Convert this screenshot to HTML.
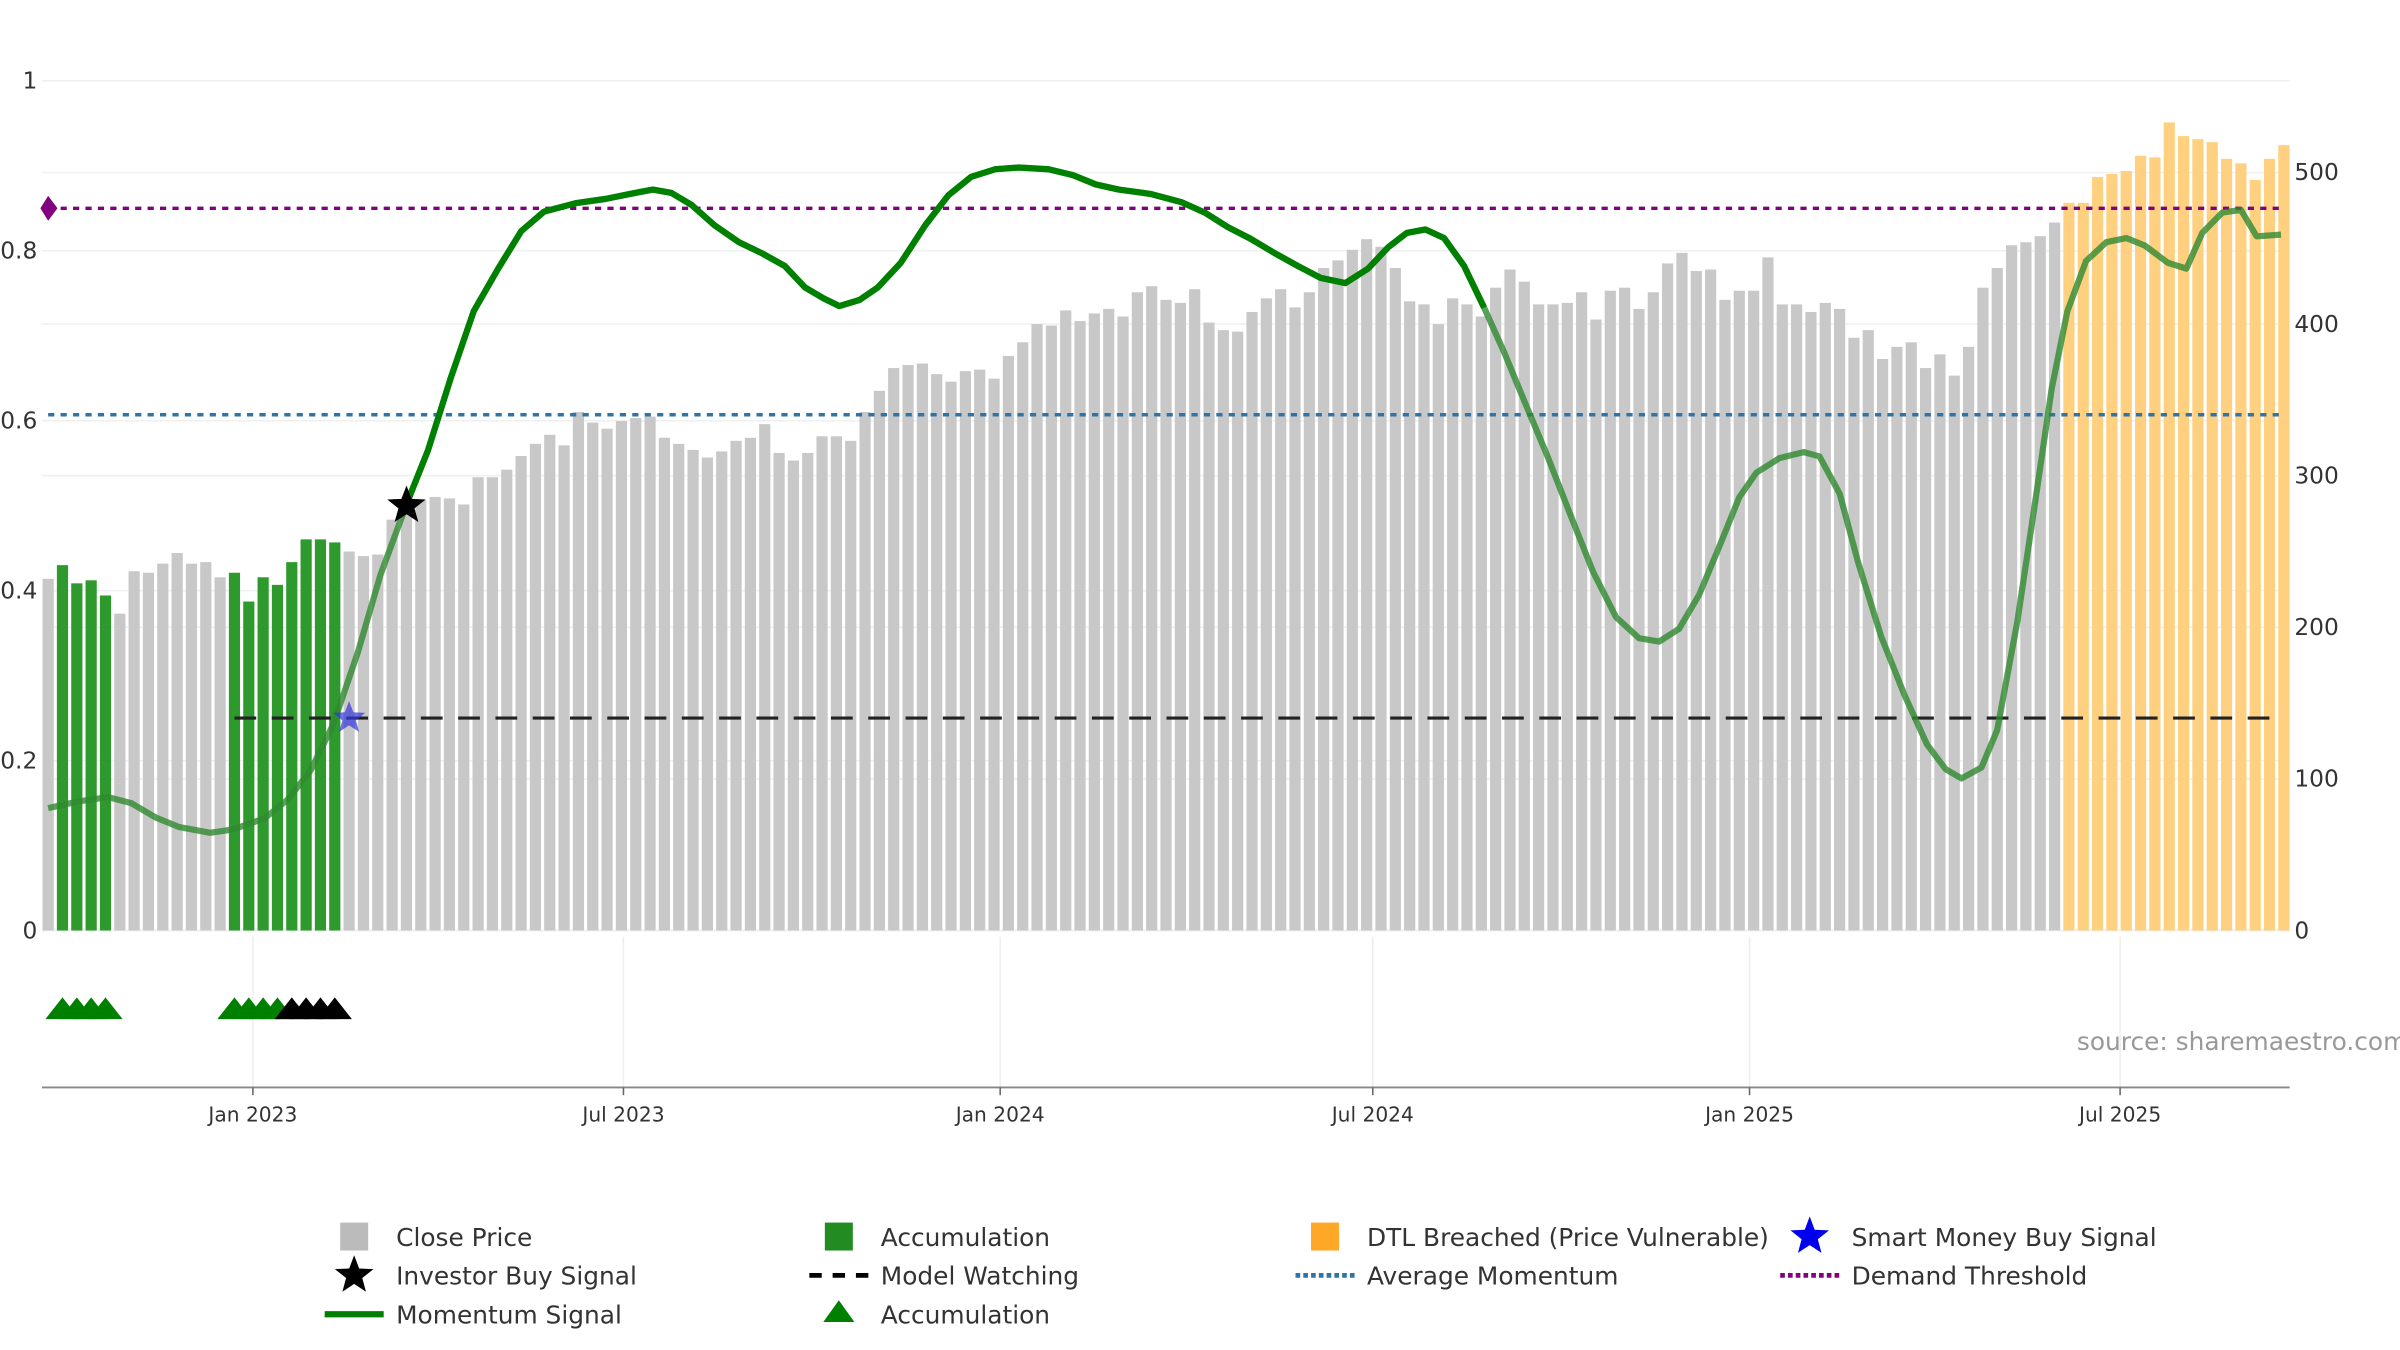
<!DOCTYPE html>
<html><head><meta charset="utf-8"><title>Momentum chart</title>
<style>html,body{margin:0;padding:0;background:#fff}svg{display:block;font-family:"DejaVu Sans","Liberation Sans",sans-serif}</style>
</head><body>
<svg id="chart" width="2400" height="1350" viewBox="0 0 1545 869" xmlns="http://www.w3.org/2000/svg">
<g id="grid"></g>
<g id="bars"></g>
<g id="lines"></g>
<g id="momentum"></g>
<g id="markers"></g>
<g id="axes"></g>
<text x="1337" y="676" font-size="16" fill="#999">source: sharemaestro.com</text>
<g id="legend" font-size="16" fill="#333"></g>
</svg>
<script>
const closePrices=[232,241,229,231,221,209,237,236,242,249,242,243,233,236,217,233,228,243,258,258,256,250,247,248,271,276,284,286,285,281,299,299,304,313,321,327,320,342,335,331,336,338,339,325,321,317,312,316,323,325,334,315,310,315,326,326,323,342,356,371,373,374,367,362,369,370,364,379,388,400,399,409,402,407,410,405,421,425,416,414,423,401,396,395,408,417,423,411,421,437,442,449,456,451,437,415,413,400,417,413,405,424,436,428,413,413,414,421,403,422,424,410,421,440,447,435,436,416,422,422,444,413,413,408,414,410,391,396,377,385,388,371,380,366,385,424,437,452,454,458,467,480,480,497,499,501,511,510,533,524,522,520,509,506,495,509,518];
const accumulationWeeks=[1,2,3,4,13,14,15,16,17,18,19,20];
const dtlStartWeek=141;
const momentumWeek=[0,2.1,4.2,5.8,7.5,9.1,11.3,12.9,15.1,16.7,18.3,19.9,21.6,23.2,25.1,26.5,28.1,29.7,31.4,33,34.6,36.8,38.9,40.6,42.2,43.5,44.9,46.5,48.2,49.8,51.4,52.8,54.1,55.2,56.6,57.9,59.5,61.2,62.8,64.4,66.1,67.7,69.8,71.5,73.1,74.7,76.9,79.1,80.7,82.3,83.9,85.6,87.2,88.8,90.5,92.1,93.5,94.8,96.1,97.4,98.8,100.2,101.6,103,104.6,106.2,107.8,109.4,111,112.4,113.8,115.2,116.6,118,119.2,120.8,122.5,123.6,125,126.3,127.9,129.5,131.1,132.4,133.5,134.9,136,137.4,138.7,139.8,140.9,142.2,143.6,145,146.3,147.9,149.2,150.3,151.7,153,154.1,155.8];
const momentumValue=[0.144,0.152,0.157,0.150,0.133,0.122,0.115,0.119,0.132,0.154,0.188,0.243,0.327,0.419,0.506,0.565,0.651,0.729,0.779,0.823,0.846,0.856,0.861,0.867,0.872,0.868,0.854,0.830,0.810,0.797,0.782,0.757,0.744,0.735,0.742,0.757,0.786,0.830,0.865,0.887,0.896,0.898,0.896,0.889,0.878,0.872,0.867,0.857,0.845,0.828,0.814,0.797,0.782,0.768,0.762,0.779,0.804,0.821,0.825,0.815,0.782,0.733,0.680,0.623,0.559,0.490,0.422,0.369,0.344,0.340,0.355,0.395,0.452,0.510,0.539,0.556,0.563,0.558,0.514,0.433,0.346,0.278,0.219,0.190,0.179,0.192,0.236,0.364,0.510,0.638,0.729,0.788,0.810,0.815,0.806,0.786,0.779,0.821,0.845,0.848,0.817,0.819];
const strongStartWeek=25, strongEndWeek=100.2;
const demandThreshold=0.85, averageMomentum=0.607, modelWatching=0.25, modelWatchStartWeek=13;
const investorBuy={week:25,value:0.5}, smartMoney={week:21,value:0.25};
const accTriangleWeeks=[1,2,3,4,13,14,15,16], watchTriangleWeeks=[17,18,19,20];
const leftTicks=[0,0.2,0.4,0.6,0.8,1], leftTickLabels=["0","0.2","0.4","0.6","0.8","1"];
const rightTicks=[0,100,200,300,400,500];
const dateTicks=["2023-01-01","2023-07-01","2024-01-01","2024-07-01","2025-01-01","2025-07-01"];
const dateTickLabels=["Jan 2023","Jul 2023","Jan 2024","Jul 2024","Jan 2025","Jul 2025"];

const NS="http://www.w3.org/2000/svg";
const X0=31, WK=9.226, PL=27, PR=1474, Y0=599;
const xw=w=>X0+WK*w;
const day0=new Date("2022-09-23T00:00:00Z").getTime();
const xd=s=>xw((new Date(s+"T00:00:00Z").getTime()-day0)/86400000/7);
const yL=v=>Y0-v*547;
const yR=p=>Y0-p*0.976;
function mk(tag,attrs,parent){const e=document.createElementNS(NS,tag);for(const k in attrs)e.setAttribute(k,attrs[k]);if(parent)parent.appendChild(e);return e;}
const G=id=>document.getElementById(id);
function starPts(cx,cy,r){let p=[];for(let k=0;k<10;k++){const a=-Math.PI/2+k*Math.PI/5,rr=k%2?r*0.42:r;p.push((cx+rr*Math.cos(a)).toFixed(1)+","+(cy+rr*Math.sin(a)).toFixed(1));}return p.join(" ");}

// grid
const grid=G("grid");
leftTicks.forEach(t=>{const l=mk("line",{x1:PL,x2:PR,y1:yL(t),y2:yL(t),stroke:"#eef0f2","stroke-width":1},grid);});
rightTicks.forEach(t=>{const l=mk("line",{x1:PL,x2:PR,y1:yR(t),y2:yR(t),stroke:"#eef0f2","stroke-width":1},grid);});
dateTicks.forEach(d=>{const l=mk("line",{x1:xd(d),x2:xd(d),y1:603,y2:700,stroke:"#eeeeee","stroke-width":1},grid);});

// bars
const bars=G("bars");
closePrices.forEach((p,i)=>{
  const acc=accumulationWeeks.includes(i), dtl=i>=dtlStartWeek;
  const fill=acc?"#2e9a2e":(dtl?"#ffd080":"#c8c8c8");
  const r=mk("rect",{x:xw(i)-3.6,y:yR(p),width:7.2,height:Y0-yR(p),fill:fill},bars);
  
  
});

// reference lines
const lines=G("lines");
let l1=mk("line",{x1:X0,x2:1470,y1:yL(demandThreshold),y2:yL(demandThreshold),stroke:"#800080","stroke-width":2.2,"stroke-dasharray":"4,4"},lines);

let dm=mk("polygon",{points:`${X0-5},${yL(demandThreshold)} ${X0},${yL(demandThreshold)-8} ${X0+6},${yL(demandThreshold)} ${X0},${yL(demandThreshold)+8}`,fill:"#800080"},lines);

let l2=mk("line",{x1:X0,x2:1470,y1:yL(averageMomentum),y2:yL(averageMomentum),stroke:"#2f74a8","stroke-width":2.2,"stroke-dasharray":"4,4"},lines);

let l3=mk("line",{x1:xw(modelWatchStartWeek),x2:1470,y1:yL(modelWatching),y2:yL(modelWatching),stroke:"#222","stroke-width":2,"stroke-dasharray":"14,10"},lines);


// momentum
const mom=G("momentum");
const pts=momentumWeek.map((w,i)=>[xw(w),yL(momentumValue[i])]);
const toPath=a=>a.map((p,i)=>(i?"L":"M")+p[0].toFixed(1)+","+p[1].toFixed(1)).join(" ");
let faded=mk("path",{d:toPath(pts),fill:"none",stroke:"#2f8a2f","stroke-opacity":0.8,"stroke-width":4,"stroke-linejoin":"round"},mom);

const strong=pts.filter((p,i)=>momentumWeek[i]>=strongStartWeek&&momentumWeek[i]<=strongEndWeek);
let sl=mk("path",{d:toPath(strong),fill:"none",stroke:"#008000","stroke-width":4,"stroke-linejoin":"round"},mom);


// markers
const mkG=G("markers");
let s1=mk("polygon",{points:starPts(xw(investorBuy.week),yL(investorBuy.value),13),fill:"#000"},mkG);

let s2=mk("polygon",{points:starPts(xw(smartMoney.week),yL(smartMoney.value),11),fill:"#3333dd","fill-opacity":0.7},mkG);

accTriangleWeeks.forEach(w=>{const t=mk("polygon",{points:`${xw(w)-11},656 ${xw(w)},642 ${xw(w)+11},656`,fill:"#008000"},mkG);});
watchTriangleWeeks.forEach(w=>{const t=mk("polygon",{points:`${xw(w)-11},656 ${xw(w)},642 ${xw(w)+11},656`,fill:"#000"},mkG);});

// axes
const ax=G("axes");
leftTicks.forEach((t,i)=>{const e=mk("text",{x:24,y:yL(t)+5,"font-size":15,fill:"#333","text-anchor":"end"},ax);e.textContent=leftTickLabels[i];});
rightTicks.forEach(t=>{const e=mk("text",{x:1477,y:yR(t)+5,"font-size":15,fill:"#333"},ax);e.textContent=String(t);});
let xl=mk("line",{x1:PL,x2:PR,y1:700,y2:700,stroke:"#888","stroke-width":1.2},ax);
dateTicks.forEach((d,i)=>{const tk=mk("line",{x1:xd(d),x2:xd(d),y1:700,y2:705,stroke:"#666"},ax);
 const e=mk("text",{x:xd(d),y:722,"font-size":13,fill:"#333","text-anchor":"middle"},ax);e.textContent=dateTickLabels[i];});

// legend
const lg=G("legend");
function item(ix,iy,label,draw,name){const g=mk("g",{},lg);draw(g,ix,iy);const t=mk("text",{x:ix+27,y:iy+6},g);t.textContent=label;}
const sq=c=>(g,x,y)=>mk("rect",{x:x-9,y:y-9,width:18,height:18,fill:c},g);
const ln=(c,w,da)=>(g,x,y)=>mk("line",{x1:x-19,x2:x+19,y1:y,y2:y,stroke:c,"stroke-width":w,"stroke-dasharray":da},g);
const st=c=>(g,x,y)=>mk("polygon",{points:starPts(x,y,13),fill:c},g);
item(228,796,"Close Price",sq("#bbbbbb"),"legend-close-price");
item(540,796,"Accumulation",sq("#228b22"),"legend-accumulation-bar");
item(853,796,"DTL Breached (Price Vulnerable)",sq("#ffa726"),"legend-dtl-breached");
item(1165,796,"Smart Money Buy Signal",st("#0000ee"),"legend-smart-money");
item(228,821,"Investor Buy Signal",st("#000"),"legend-investor-buy");
item(540,821,"Model Watching",ln("#000",3,"8,7"),"legend-model-watching");
item(853,821,"Average Momentum",ln("#2f74a8",3,"3,2"),"legend-average-momentum");
item(1165,821,"Demand Threshold",ln("#800080",3,"3,2"),"legend-demand-threshold");
item(228,846,"Momentum Signal",ln("#008000",4,"none"),"legend-momentum-signal");
item(540,846,"Accumulation",(g,x,y)=>mk("polygon",{points:`${x-10},${y+5} ${x},${y-9} ${x+10},${y+5}`,fill:"#008000"},g),"legend-accumulation-triangle");
</script>
</body></html>
